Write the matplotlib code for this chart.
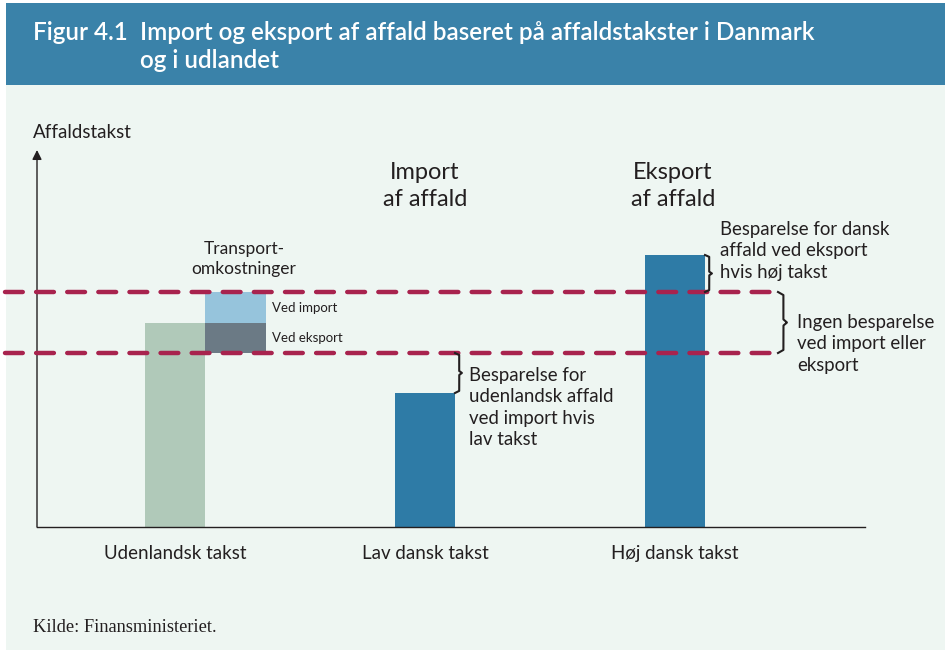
import matplotlib
matplotlib.use("Agg")
import matplotlib.pyplot as plt
import numpy as np
from matplotlib.patches import Rectangle

# ---- data (abstract "takst" units) ----
categories = ["Udenlandsk takst", "Lav dansk takst", "Høj dansk takst"]
bar_values = [204, 134, 272]
bar_colors = ["#B0C9B9", "#2E7BA6", "#2E7BA6"]
transport_labels = ["Ved eksport", "Ved import"]
transport_low = [174, 204]
transport_high = [204, 235]
transport_colors = ["#6B7A85", "#96C4DC"]
band_levels = [174, 235]

W, H = 949, 650
fig = plt.figure(figsize=(W / 100, H / 100), dpi=100)
fig.patch.set_facecolor("white")
plt.rcParams['font.family'] = ['Lato', 'DejaVu Sans']

def fx(x):
    return x / W

def fy(y):
    return 1 - y / H

# background panels
fig.patches.append(Rectangle((fx(6), fy(650)), fx(939), fy(85) - fy(650), transform=fig.transFigure,
                             facecolor="#EEF6F2", edgecolor="none", zorder=-10))
fig.patches.append(Rectangle((fx(6), fy(85)), fx(939), fy(3) - fy(85), transform=fig.transFigure,
                             facecolor="#3A82A9", edgecolor="none", zorder=-10))

txtc = "#231F20"
fig.text(fx(33), fy(32), "Figur 4.1", color="white", fontsize=17.5, fontweight="semibold", va="center")
fig.text(fx(140), fy(32), "Import og eksport af affald baseret på affaldstakster i Danmark",
         color="white", fontsize=17.5, fontweight="semibold", va="center")
fig.text(fx(140), fy(61), "og i udlandet", color="white", fontsize=17.5, fontweight="semibold", va="center")

# plot axes: x px 37..865, y px 527..150
ax = fig.add_axes([fx(37), fy(527), fx(865) - fx(37), fy(150) - fy(527)])
ax.set_zorder(2)
ax.set_facecolor("none")
x0 = 175.0
sp = 250.0
ax.set_xlim((37 - x0) / sp, (865 - x0) / sp)
ax.set_ylim(0, 377)
for s in ["top", "right"]:
    ax.spines[s].set_visible(False)
ax.spines["left"].set_visible(False)
ax.spines["bottom"].set_color("#231F20")
ax.spines["bottom"].set_linewidth(1.0)
ax.set_yticks([])
ax.tick_params(axis="x", length=0, pad=13, labelsize=13.5, labelcolor=txtc)
xpos = np.arange(len(categories))
bw = 60 / sp
ax.bar(xpos, bar_values, width=bw, color=bar_colors, zorder=2)
ax.set_xticks(xpos)
ax.set_xticklabels(categories)

# transport boxes next to first bar
tw = 61 / sp
tx = bw / 2 + tw / 2
for lo, hi, c, lab in zip(transport_low, transport_high, transport_colors, transport_labels):
    ax.bar(tx, hi - lo, bottom=lo, width=tw, color=c, zorder=2)
    ax.text(tx + tw / 2 + 6 / sp, (lo + hi) / 2, lab, fontsize=9.5, color=txtc,
            va="center", ha="left")

# y axis arrow
ax.annotate("", xy=(ax.get_xlim()[0], 377), xytext=(ax.get_xlim()[0], 0),
            arrowprops=dict(arrowstyle="-|>", color="#231F20", lw=1.0, mutation_scale=14,
                            shrinkA=0, shrinkB=0), annotation_clip=False)

# dashed band lines
for lv in band_levels:
    ax.plot([(5 - x0) / sp, (778 - x0) / sp], [lv, lv], color="#A8234E", lw=3.2,
            dashes=(4, 3), dash_capstyle="round", clip_on=False, zorder=3)

def brace(ax, x, y0, y1, w):
    # right-pointing curly brace in data coords
    t = np.linspace(0, 1, 400)
    ys = y0 + (y1 - y0) * t
    d = np.abs(t - 0.5) * 2
    prof = np.where(d > 0.9, (1 - d) / 0.1, 1.0) * 0.6 + np.where(d < 0.1, (0.1 - d) / 0.1, 0) * 0.4
    xs = x + w * prof
    ax.plot(xs, ys, color="#231F20", lw=1.5, clip_on=False, zorder=4)

brace(ax, (455 - x0) / sp, 134, 174, 7 / sp)
brace(ax, (705 - x0) / sp, 235, 272, 7 / sp)
brace(ax, (778 - x0) / sp, 174, 235, 9 / sp)

# labels
fig.text(fx(33), fy(133), "Affaldstakst", fontsize=13.5, color=txtc, va="center")
fig.text(fx(425), fy(186), "Import\naf affald", fontsize=17, color=txtc, ha="center", va="center",
         linespacing=1.35)
fig.text(fx(673), fy(186), "Eksport\naf affald", fontsize=17, color=txtc, ha="center", va="center",
         linespacing=1.35)
fig.text(fx(244), fy(259), "Transport-\nomkostninger", fontsize=12.5, color=txtc, ha="center",
         va="center", linespacing=1.35)
fig.text(fx(469), fy(367), "Besparelse for\nudenlandsk affald\nved import hvis\nlav takst",
         fontsize=13.4, color=txtc, ha="left", va="top", linespacing=1.31)
fig.text(fx(720), fy(221), "Besparelse for dansk\naffald ved eksport\nhvis høj takst",
         fontsize=13.4, color=txtc, ha="left", va="top", linespacing=1.31)
fig.text(fx(797), fy(314), "Ingen besparelse\nved import eller\neksport",
         fontsize=13.4, color=txtc, ha="left", va="top", linespacing=1.31)
fig.text(fx(33), fy(627), "Kilde: Finansministeriet.", fontsize=13.2, color=txtc, va="center",
         family=["Liberation Serif", "DejaVu Serif"])

fig.savefig("out.png", dpi=100, facecolor="white")
